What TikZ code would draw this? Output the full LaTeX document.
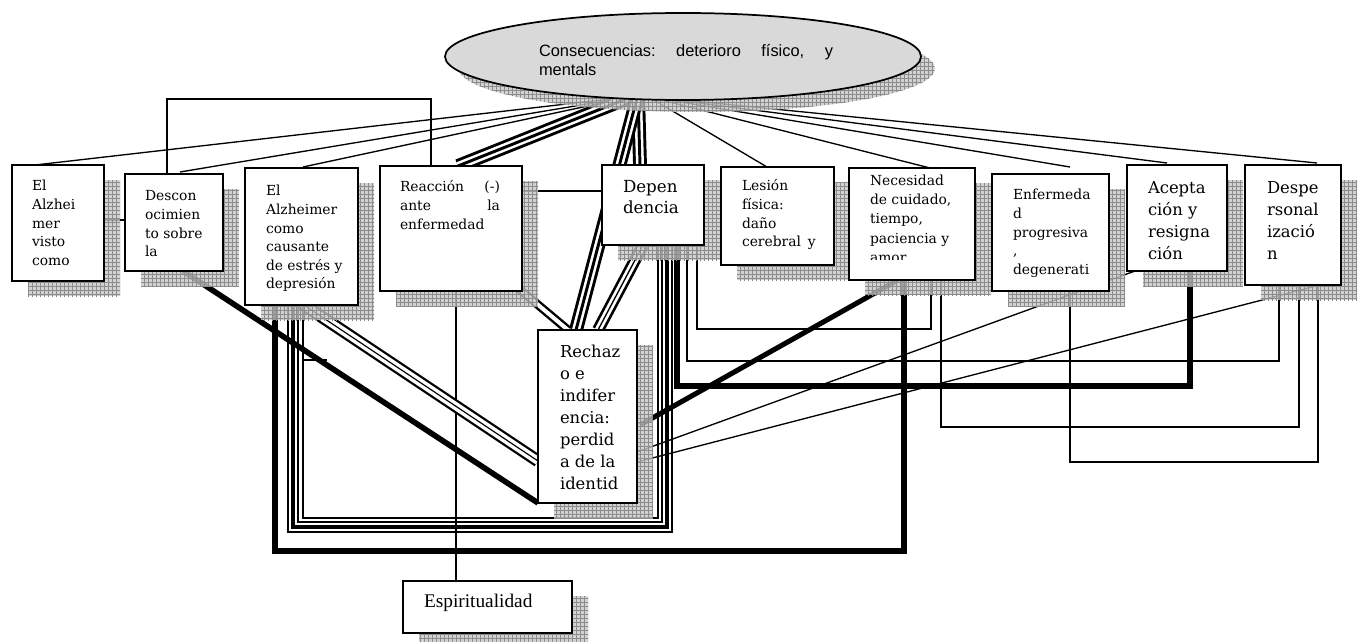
\documentclass[tikz,border=0pt]{standalone}
\usepackage{fontspec}
\setmainfont{DejaVu Serif}
\newfontfamily\ellfont{Liberation Sans}
\newfontfamily\espfont{Liberation Serif}
\usetikzlibrary{calc,patterns,shapes.geometric}
\pgfdeclarelayer{wires}
\pgfdeclarelayer{shades}
\pgfsetlayers{wires,shades,main}

% fonts of the different boxes
\newcommand\lblsmall{\fontsize{10.4}{13.9}\selectfont}
\newcommand\lblfour{\fontsize{10.4}{14.25}\selectfont}
\newcommand\lblseven{\fontsize{10.4}{14.5}\selectfont}
\newcommand\lbldep{\fontsize{12.5}{15.75}\selectfont}
\newcommand\lblbig{\fontsize{12.3}{16.5}\selectfont}
\newcommand\lblesp{\espfont\fontsize{14.5}{17}\selectfont}
\newcommand\lblell{\ellfont\fontsize{12.3}{14.25}\selectfont}

% gridded drop shadow behind a box
\newcommand\boxshade[1]{%
  \fill[black!22, fill opacity=0.8] ($(#1.north west)+(16,15)$) rectangle ($(#1.south east)+(16,15)$);
  \fill[pattern=grid, pattern color=black!45] ($(#1.north west)+(16,15)$) rectangle ($(#1.south east)+(16,15)$);}

% three-stroke connector: two outer strokes and one centre stroke
\newcommand\triplewire[5]{%
  \draw[double, line width=#3, double distance=#4] #1 -- #2;
  \draw[line width=#5] #1 -- #2;}

\begin{document}
\begin{tikzpicture}[x=0.75pt, y=-0.75pt,
  box/.style 2 args={draw, line width=1.5pt, fill=white, rectangle, anchor=north west,
    inner sep=0pt, outer sep=0pt, minimum width=#1*0.75pt, minimum height=#2*0.75pt},
  boxtext/.style={anchor=north west, inner sep=0pt, outer sep=0pt, align=left},
  wire/.style={line width=1pt},
  heavy/.style={line width=4.5pt, line join=miter}]

\useasboundingbox (0,0) rectangle (1361,642);

% ---------- central ellipse ----------
\node[draw, ellipse, fill=black!15, line width=1.3pt, inner sep=0pt,
      minimum width=476*0.75pt, minimum height=87*0.75pt] (cons) at (683,56.5) {};
\node[boxtext, font=\lblell] (constext) at (539,43.7)
  {\strut\hbox to 220.5pt{Consecuencias:\hfill deterioro\hfill físico,\hfill y}\\mentals};

\coordinate (hubL) at ($(cons.center)+(-51,40)$);
\coordinate (hubM) at ($(cons.center)+(-45,38)$);
\coordinate (hubR) at ($(cons.center)+(-35,40)$);

% ---------- boxes ----------
\node[box={92}{116}]  (b1)  at (12,165)  {};
\node[box={98}{97}]   (b2)  at (125,174) {};
\node[box={113}{137}] (b3)  at (245,168) {};
\node[box={142}{125}] (b4)  at (380,166) {};
\node[box={102}{80}]  (b5)  at (602,165) {};
\node[box={113}{98}]  (b6)  at (721,167) {};
\node[box={126}{112}] (b7)  at (849,168) {};
\node[box={117}{117}] (b8)  at (992,174) {};
\node[box={100}{106}] (b9)  at (1127,165) {};
\node[box={96}{120}]  (b10) at (1245,165) {};
\node[box={99}{173}]  (b11) at (538,330) {};
\node[box={169}{52}]  (b12) at (403,581) {};

% ---------- texts ----------
\node[boxtext, font=\lblsmall] (t1) at ($(b1.north west)+(20,13)$)
  {\strut El\\Alzhei\\mer\\visto\\como};
\node[boxtext, font=\lblsmall] (t2) at ($(b2.north west)+(20,14)$)
  {\strut Descon\\ocimien\\to sobre\\la};
\node[boxtext, font=\lblsmall] (t3) at ($(b3.north west)+(21,15)$)
  {\strut El\\Alzheimer\\como\\causante\\de estrés y\\depresión};
\node[boxtext, font=\lblfour] (t4) at ($(b4.north west)+(20,12)$)
  {\strut\hbox to 75pt{Reacción\hfill(-)}\\\hbox to 75pt{ante\hfill la}\\enfermedad};
\node[boxtext, font=\lbldep] (t5) at ($(b5.north west)+(21,13)$)
  {\strut Depen\\dencia};
\node[boxtext, font=\lblsmall] (t6) at ($(b6.north west)+(21,11)$)
  {\strut Lesión\\física:\\daño\\cerebral\enspace y};
\begin{scope}
  \clip (b7.north west) rectangle ($(b7.south east)+(0,-20.5)$);
  \node[boxtext, font=\lblseven] (t7) at ($(b7.north west)+(21,3.5)$)
    {\strut Necesidad\\de cuidado,\\tiempo,\\paciencia y\\amor};
\end{scope}
\node[boxtext, font=\lblsmall] (t8) at ($(b8.north west)+(21,13)$)
  {\strut Enfermeda\\d\\progresiva\\,\\degenerati};
\node[boxtext, font=\lblbig] (t9) at ($(b9.north west)+(21,12.6)$)
  {\strut Acepta\\ción y\\resigna\\ción};
\node[boxtext, font=\lblbig] (t10) at ($(b10.north west)+(22,12.6)$)
  {\strut Despe\\rsonal\\izació\\n};
\node[boxtext, font=\lblbig] (t11) at ($(b11.north west)+(22,11.6)$)
  {\strut Rechaz\\o e\\indifer\\encia:\\perdid\\a de la\\identid};
\node[boxtext, font=\lblesp] (t12) at ($(b12.north west)+(21,11)$)
  {\strut Espiritualidad};

% ---------- connectors ----------
\begin{pgfonlayer}{wires}
\fill[white] (0,0) rectangle (1361,642);

% fan out of the ellipse
\draw[wire] (hubL) -- ($(b1.north west)+(23,0)$);
\draw[wire] (hubL) -- ($(b2.north west)+(55,-2)$);
\draw[wire] (hubL) -- ($(b3.north west)+(58,-1)$);
\draw[wire] (hubR) -- ($(b6.north west)+(46,0)$);
\draw[wire] (hubR) -- ($(b7.north west)+(81,0)$);
\draw[wire] (hubR) -- ($(b8.north west)+(78,-7)$);
\draw[wire] (hubR) -- ($(b9.north west)+(40,-2)$);
\draw[wire] (hubR) -- ($(b10.north west)+(72,-2)$);
\triplewire{(hubL)}{($(b4.north west)+(78,0)$)}{2.2pt}{6pt}{2.2pt}
\triplewire{(hubM)}{($(b5.north west)+(38,0)$)}{2.2pt}{6pt}{2.2pt}
\triplewire{(hubM)}{($(b11.north west)+(38,0)$)}{2.2pt}{6pt}{2.2pt}

% top bracket and short side links
\draw[wire] ($(b2.north west)+(42,0)$) -- ++(0,-75) -| ($(b4.north west)+(51,0)$);
\draw[wire] ($(b1.north east)+(0,55)$) -- ($(b2.north west)+(0,46)$);
\draw[wire] ($(b4.north east)+(0,25)$) -- ($(b5.north west)+(0,26)$);
\draw[wire] ($(b4.south west)+(76,0)$) -- ($(b12.north west)+(53,0)$);

% links into the rejection box
\draw[line width=4.2pt] ($(b2.south west)+(58,0)$) -- (b11.south west);
\draw[line width=3.8pt] ($(b7.south west)+(49,0)$) -- ($(b11.north east)+(3,95)$);
\draw[wire] ($(b9.south west)+(8,0)$) -- ($(b11.north east)+(0,122)$);
\draw[wire] ($(b10.south west)+(75,0)$) -- ($(b11.north east)+(0,132)$);
\triplewire{($(b3.south west)+(56,-2)$)}{($(b11.north west)+(0,131)$)}{1.7pt}{6pt}{0.9pt}
\draw[double, line width=1.8pt, double distance=3pt] ($(b4.south east)+(-4,-3)$) -- ($(b11.north west)+(30,0)$);
\triplewire{($(b5.south west)+(41,0)$)}{($(b11.north west)+(60,0)$)}{2pt}{5pt}{1pt}
\draw[line width=1.2pt] ($(b3.south west)+(58,55)$) -- ++(24,0);

% bottom brackets
\draw[heavy] ($(b3.south west)+(30,0)$) -- ++(0,246) -| ($(b7.south west)+(55,0)$);
\draw[line width=1pt]   ($(b3.south west)+(43,0)$) -- ++(0,227) -| ($(b5.south west)+(70,0)$);
\draw[line width=2.6pt] ($(b3.south west)+(48,0)$) -- ++(0,222) -| ($(b5.south west)+(65,0)$);
\draw[line width=1.5pt] ($(b3.south west)+(53,0)$) -- ++(0,217) -| ($(b5.south west)+(60,0)$);
\draw[line width=1pt]   ($(b3.south west)+(58,0)$) -- ++(0,213) -| ($(b5.south west)+(56,0)$);

% right-hand brackets
\draw[heavy] ($(b5.south west)+(75,0)$) -- ++(0,141) -| ($(b9.south west)+(63,0)$);
\draw[wire] ($(b5.south west)+(85,0)$) -- ++(0,116) -| ($(b10.south west)+(34,0)$);
\draw[wire] ($(b5.south west)+(95,0)$) -- ++(0,84) -| ($(b7.south west)+(82,0)$);
\draw[wire] ($(b7.south west)+(92,0)$) -- ++(0,147) -| ($(b10.south west)+(54,0)$);
\draw[wire] ($(b8.south west)+(78,0)$) -- ++(0,171) -| ($(b10.south west)+(73,0)$);
\end{pgfonlayer}

% ---------- shadows ----------
\begin{pgfonlayer}{shades}
\fill[black!22, fill opacity=0.8] ($(cons.center)+(14,12)$) ellipse (238 and 43.5);
\fill[pattern=grid, pattern color=black!45] ($(cons.center)+(14,12)$) ellipse (238 and 43.5);
\foreach \n in {b1,b2,b3,b4,b5,b6,b7,b8,b9,b10,b11,b12} {\boxshade{\n}}
\end{pgfonlayer}

\end{tikzpicture}
\end{document}
